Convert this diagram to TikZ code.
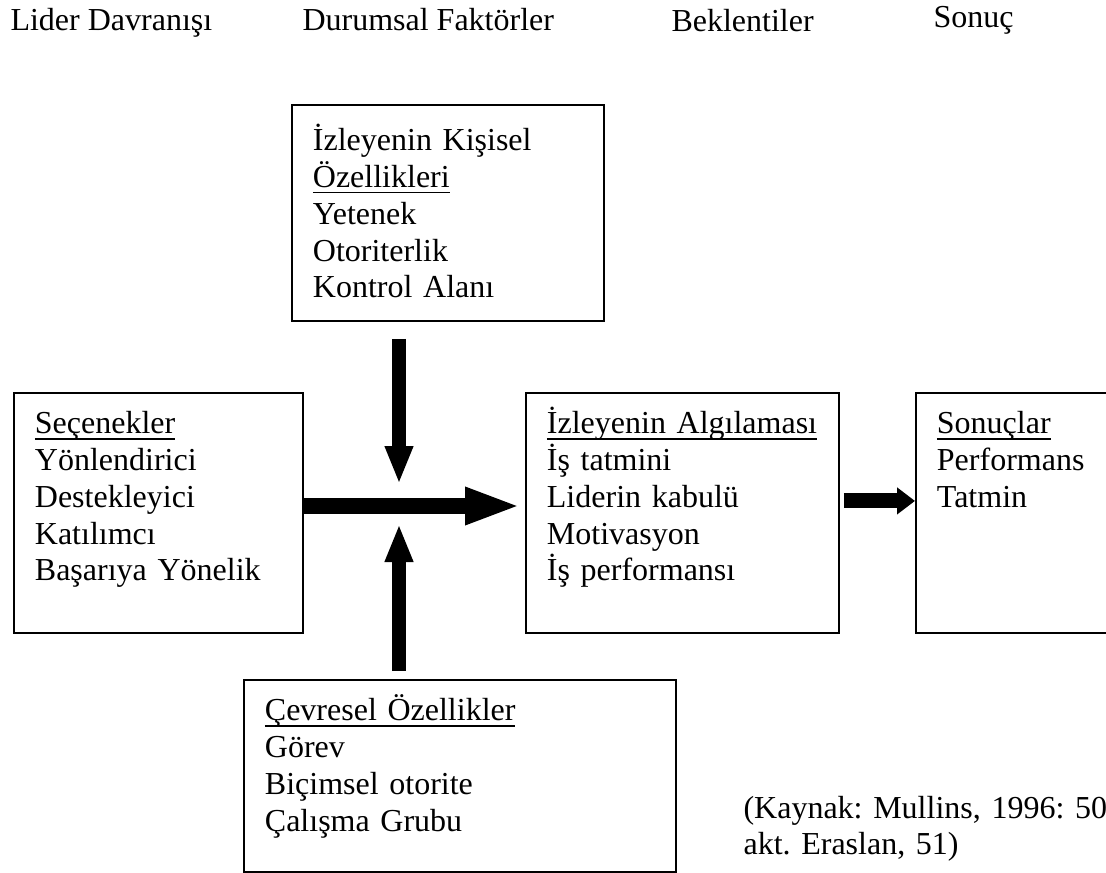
\documentclass[tikz,border=0pt]{standalone}
\usepackage{fontspec}
\setmainfont{Liberation Serif}
\usetikzlibrary{arrows.meta,calc}
\newcommand{\alti}[1]{\leavevmode\setbox0\hbox{#1}\rlap{\rule[-2.2pt]{\wd0}{0.7pt}}\box0}
\frenchspacing

\begin{document}
\begin{tikzpicture}[x=0.375pt, y=-0.375pt,
    every node/.style={font=\fontsize{12pt}{13.76pt}\selectfont, inner sep=0pt},
    kutu/.style 2 args={draw, line width=0.7pt, anchor=north west, inner xsep=7.875pt, inner ysep=0pt,
      align=left, text width={(#1-42)*0.375pt}, text height=15.375pt, text depth={(#2-41)*0.375pt}},
    baslik/.style={anchor=base west},
    ok/.style={line width=6pt, -{Triangle[length=21pt, width=12.75pt]}},
    dikok/.style={line width=5.25pt, -{Triangle[length=14.25pt, width=9.75pt]}},
    kucukok/.style={line width=5.6pt, -{Triangle[length=6.75pt, width=9.75pt]}}]
  \useasboundingbox (0,0) rectangle (1106,873);
  \clip (0,0) rectangle (1106,873);

  \node[baslik] (lider) at (10,31) {Lider Davranışı};
  \node[baslik] (durum) at (302,31) {Durumsal Faktörler};
  \node[baslik] (bekle) at (671,32) {Beklentiler};
  \node[baslik] (sonuc) at (933,28) {Sonuç};

  \node[kutu={312}{216}, text height=17.25pt, text depth=63.75pt] (kis) at (291,104) {İzleyenin Kişisel\\\alti{Özellikleri}\\Yetenek\\Otoriterlik\\Kontrol Alanı};
  \node[kutu={289}{240}] (sel) at (13,392) {\alti{Seçenekler}\\Yönlendirici\\Destekleyici\\Katılımcı\\Başarıya Yönelik};
  \node[kutu={313}{240}] (izl) at (525,392) {\alti{İzleyenin Algılaması}\\İş tatmini\\Liderin kabulü\\Motivasyon\\İş performansı};
  \node[kutu={215}{240}] (son) at (915,392) {\alti{Sonuçlar}\\Performans\\Tatmin};
  \node[kutu={432}{192}] (cev) at (243,679) {\alti{Çevresel Özellikler}\\Görev\\Biçimsel otorite\\Çalışma Grubu};
  \node[baslik, text width=200pt, align=left] (kaynak) at (743,818) {(Kaynak: Mullins, 1996: 506\\akt. Eraslan, 51)};

  \coordinate (kav) at (399,506);
  \draw[ok] (sel.east |- kav) -- ($(izl.west |- kav)+(-4,0)$);
  \draw[dikok] ($(kis.south -| kav)+(0,17)$) -- ($(kav)+(0,-22)$);
  \draw[dikok] ($(cev.north -| kav)+(0,-8)$) -- ($(kav)+(0,18)$);
  \draw[kucukok] ($(izl.east)+(4,-12)$) -- ($(son.west)+(0,-12)$);
\end{tikzpicture}
\end{document}
